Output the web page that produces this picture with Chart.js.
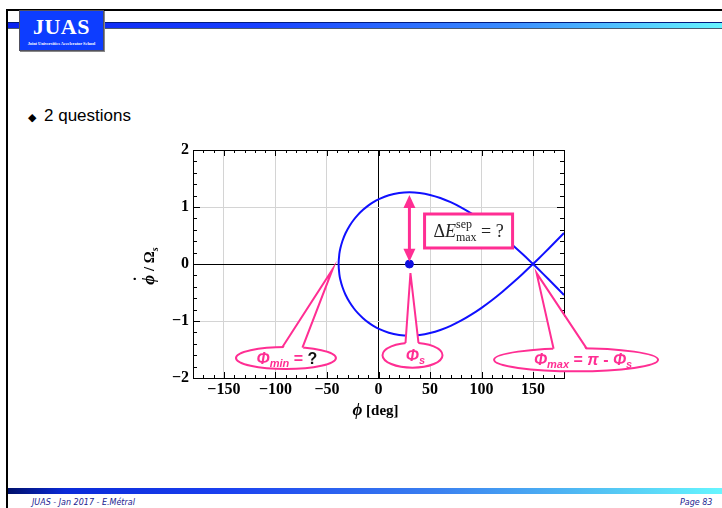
<!DOCTYPE html>
<html><head><meta charset="utf-8">
<script src="https://cdn.jsdelivr.net/npm/chart.js@4"></script>
<style>
html,body{margin:0;padding:0;background:#fff;}
body{width:722px;height:508px;position:relative;overflow:hidden;font-family:'Liberation Sans',Arial,sans-serif;}
#frameTop{position:absolute;left:6px;top:9px;width:716px;height:2px;background:#000;}
#frameLeft{position:absolute;left:6px;top:9px;width:2px;height:499px;background:#000;}
#hbar{position:absolute;left:8px;top:22px;width:714px;height:5px;background:linear-gradient(to right,#0a22f0 0%,#1840ff 35%,#3a8cff 70%,#66f4ff 100%);border-top:1px solid #001a80;border-bottom:1px solid #4a5a70;}
#logo{position:absolute;left:19px;top:10px;width:83px;height:39px;background:#0d3dff;border:1px solid #505060;box-shadow:1px 1px 0 #888;}
#logo .t{position:absolute;left:0;top:3px;width:100%;text-align:center;color:#fff;font:bold 22px 'Liberation Serif',serif;letter-spacing:0.5px;}
#logo .s{position:absolute;left:0;top:30px;width:100%;text-align:center;color:#fff;font:bold 4.3px 'Liberation Serif',serif;white-space:nowrap;}
#bullet{position:absolute;left:28px;top:111px;font-size:11px;color:#000;}
#btext{position:absolute;left:44px;top:106px;font:17px 'Liberation Sans',Arial,sans-serif;color:#000;}
#fbar{position:absolute;left:8px;top:488px;width:714px;height:6px;background:linear-gradient(to right,#00106a 0%,#0a2ad8 8%,#1a40f0 30%,#3a80f0 60%,#55c8f4 85%,#66f6ff 100%);}
#ftext{position:absolute;left:32px;top:498px;font:italic 8px 'DejaVu Sans',sans-serif;color:#1a1a90;}
#fpage{position:absolute;left:680px;top:498px;font:italic 8px 'DejaVu Sans',sans-serif;color:#1a1a90;}
#c{position:absolute;left:0;top:0;}
</style></head>
<body>
<div id="frameTop"></div><div id="frameLeft"></div>
<div id="hbar"></div>
<div id="logo"><div class="t">JUAS</div><div class="s">Joint Universities Accelerator School</div></div>
<div id="bullet">◆</div>
<div id="btext">2 questions</div>
<div id="fbar"></div>
<div id="ftext">JUAS - Jan 2017 - E.Métral</div>
<div id="fpage">Page 83</div>
<canvas id="c" width="722" height="508"></canvas>
<script>
// ---- data ----
const phiLoopUpper = [150,140,130,120,110,100,90,80,70,60,50,40,30,20,10,0,-5,-10,-15,-20,-24,-28,-32,-35,-37,-38,-38.7];
const dotLoopUpper = [0,0.171,0.335,0.491,0.636,0.769,0.889,0.995,1.085,1.158,1.212,1.246,1.258,1.245,1.205,1.134,1.085,1.025,0.951,0.863,0.776,0.672,0.539,0.404,0.275,0.176,0];
const phiLoopLower = [-38,-37,-35,-32,-28,-24,-20,-15,-10,-5,0,10,20,30,40,50,60,70,80,90,100,110,120,130,140,150];
const dotLoopLower = [-0.176,-0.275,-0.404,-0.539,-0.672,-0.776,-0.863,-0.951,-1.025,-1.085,-1.134,-1.205,-1.245,-1.258,-1.246,-1.212,-1.158,-1.085,-0.995,-0.889,-0.769,-0.636,-0.491,-0.335,-0.171,0];
const phiTail = [150,160,170,180];
const dotTailUp = [0,0.177,0.359,0.543];
const dotTailDown = [0,-0.177,-0.359,-0.543];
const phiS = [30];
const dotS = [0];
const xTicks = [-150,-100,-50,0,50,100,150];
const yTicks = [-2,-1,0,1,2];

const PINK = '#ff2e93';
const BLUE = '#1010ff';

const loopPts = phiLoopUpper.map((p,i)=>({x:p,y:dotLoopUpper[i]}))
  .concat(phiLoopLower.map((p,i)=>({x:p,y:dotLoopLower[i]})));
const tailUp = phiTail.map((p,i)=>({x:p,y:dotTailUp[i]}));
const tailDown = phiTail.map((p,i)=>({x:p,y:dotTailDown[i]}));
const sPt = phiS.map((p,i)=>({x:p,y:dotS[i]}));

function fmt(v){ return v<0 ? '\u2212'+Math.abs(v) : String(v); }

function drawRuns(ctx, runs, cx, baseY){
  let w=0;
  runs.forEach(r=>{ctx.font=r.font; r.w=ctx.measureText(r.t).width; w+=r.w;});
  let x=cx-w/2;
  runs.forEach(r=>{
    ctx.font=r.font; ctx.fillStyle=r.color; ctx.textBaseline='alphabetic'; ctx.textAlign='left';
    ctx.fillText(r.t, x, baseY+(r.dy||0));
    r.x=x;
    x+=r.w;
  });
  return runs;
}

function callout(ctx, cx, cy, rx, ry, tip, bx1, bx2){
  const top = (x)=> cy - ry*Math.sqrt(Math.max(0,1-Math.pow((x-cx)/rx,2)));
  ctx.save();
  ctx.lineWidth=2; ctx.strokeStyle=PINK; ctx.fillStyle='#fff';
  ctx.beginPath(); ctx.ellipse(cx,cy,rx,ry,0,0,Math.PI*2); ctx.fill(); ctx.stroke();
  const y1=top(bx1), y2=top(bx2);
  ctx.beginPath(); ctx.moveTo(bx1,y1+2.5); ctx.lineTo(tip[0],tip[1]); ctx.lineTo(bx2,y2+2.5); ctx.closePath(); ctx.fill();
  ctx.beginPath(); ctx.moveTo(bx1,y1); ctx.lineTo(tip[0],tip[1]); ctx.lineTo(bx2,y2); ctx.stroke();
  ctx.restore();
}

const overlay = {
  id:'overlay',
  afterDatasetsDraw(chart){
    const ctx=chart.ctx, a=chart.chartArea, xs=chart.scales.x, ys=chart.scales.y;
    const X=v=>xs.getPixelForValue(v), Y=v=>ys.getPixelForValue(v);
    ctx.save();
    // frame
    ctx.strokeStyle='#000'; ctx.lineWidth=1;
    ctx.strokeRect(Math.round(a.left)+0.5, Math.round(a.top)+0.5, Math.round(a.right-a.left), Math.round(a.bottom-a.top));
    // ticks on frame
    ctx.beginPath();
    for(let v=-180; v<=180; v+=10){
      const px=Math.round(X(v))+0.5, L=(v%50===0)?6:3;
      ctx.moveTo(px,a.bottom); ctx.lineTo(px,a.bottom-L);
      ctx.moveTo(px,a.top); ctx.lineTo(px,a.top+L);
    }
    for(let k=-10; k<=10; k++){
      const v=k/5, py=Math.round(Y(v))+0.5, L=(k%5===0)?7:4;
      ctx.moveTo(a.left,py); ctx.lineTo(a.left+L,py);
      ctx.moveTo(a.right,py); ctx.lineTo(a.right-L,py);
    }
    ctx.stroke();

    // axis titles
    const SF="'Liberation Serif',serif";
    drawRuns(ctx,[
      {t:'\u03D5',font:'italic bold 17px '+SF,color:'#000'},
      {t:' [deg]',font:'bold 15px '+SF,color:'#000'}
    ], (a.left+a.right)/2-3, a.bottom+37);
    ctx.save();
    ctx.translate(a.left-39, (a.top+a.bottom)/2+2);
    ctx.rotate(-Math.PI/2);
    const r = drawRuns(ctx,[
      {t:'\u03D5',font:'italic bold 17px '+SF,color:'#000'},
      {t:' / \u03A9',font:'bold 15px '+SF,color:'#000'},
      {t:'s',font:'italic bold 10px '+SF,color:'#000',dy:4}
    ], 0, 0);
    ctx.font='bold 16px '+SF; ctx.fillStyle='#000'; ctx.textAlign='center';
    ctx.fillText('\u02D9', r[0].x + r[0].w/2 + 1, -9);
    ctx.restore();

    // double arrow at phi_s
    const ax=X(30), ay1=Y(0.04), ay2=Y(1.21);
    ctx.strokeStyle=PINK; ctx.fillStyle=PINK; ctx.lineWidth=3;
    ctx.beginPath(); ctx.moveTo(ax,ay1-10); ctx.lineTo(ax,ay2+10); ctx.stroke();
    ctx.beginPath(); ctx.moveTo(ax,ay2); ctx.lineTo(ax-6,ay2+13); ctx.lineTo(ax+6,ay2+13); ctx.closePath(); ctx.fill();
    ctx.beginPath(); ctx.moveTo(ax,ay1); ctx.lineTo(ax-6,ay1-13); ctx.lineTo(ax+6,ay1-13); ctx.closePath(); ctx.fill();

    // Delta E box
    const bx1=X(44.7), bx2=X(130.1), by1=Y(0.877), by2=Y(0.281);
    ctx.fillStyle='#fff'; ctx.fillRect(bx1,by1,bx2-bx1,by2-by1);
    ctx.lineWidth=3; ctx.strokeStyle=PINK; ctx.strokeRect(bx1,by1,bx2-bx1,by2-by1);
    const tc='#222';
    ctx.font="18px 'Liberation Serif'"; const wD=ctx.measureText('\u0394').width;
    ctx.font="italic 18px 'Liberation Serif'"; const wE=ctx.measureText('E').width;
    ctx.font="12px 'Liberation Serif'"; const wS=Math.max(ctx.measureText('sep').width, ctx.measureText('max').width);
    ctx.font="18px 'Liberation Serif'"; const wQ=ctx.measureText(' = ?').width;
    const tot=wD+wE+wS+wQ; let tx=(bx1+bx2)/2-tot/2; const tb=(by1+by2)/2+6;
    ctx.fillStyle=tc; ctx.textAlign='left'; ctx.textBaseline='alphabetic';
    ctx.font="18px 'Liberation Serif'"; ctx.fillText('\u0394',tx,tb); tx+=wD;
    ctx.font="italic 18px 'Liberation Serif'"; ctx.fillText('E',tx,tb); tx+=wE;
    ctx.font="12px 'Liberation Serif'"; ctx.fillText('sep',tx,tb-9); ctx.fillText('max',tx,tb+4); tx+=wS;
    ctx.font="18px 'Liberation Serif'"; ctx.fillText(' = ?',tx,tb);

    // callouts
    const F="'Liberation Sans',Arial,sans-serif";
    callout(ctx, X(-89.8), Y(-1.65), 50, 11, [X(-44.5),Y(-0.09)], X(-93.2), X(-73.8));
    drawRuns(ctx,[
      {t:'\u03A6',font:'italic bold 16px '+F,color:PINK},
      {t:'min',font:'italic bold 11px '+F,color:PINK,dy:3},
      {t:' = ',font:'bold 16px '+F,color:PINK},
      {t:'?',font:'bold 16px '+F,color:'#111'}
    ], X(-89.8)+1, Y(-1.65)+5.5);

    callout(ctx, X(33), Y(-1.6), 30, 12.5, [X(31),Y(-0.16)], X(26.2), X(38.8));
    drawRuns(ctx,[
      {t:'\u03A6',font:'italic bold 16px '+F,color:PINK},
      {t:'s',font:'italic bold 11px '+F,color:PINK,dy:3}
    ], X(33)+3, Y(-1.6)+5.5);

    callout(ctx, X(191.7), Y(-1.68), 82, 11.5, [X(153.4),Y(-0.16)], X(169.9), X(201.9));
    drawRuns(ctx,[
      {t:'\u03A6',font:'italic bold 16px '+F,color:PINK},
      {t:'max',font:'italic bold 11px '+F,color:PINK,dy:3},
      {t:' = ',font:'bold 16px '+F,color:PINK},
      {t:'\u03C0',font:'italic bold 16px '+F,color:PINK},
      {t:' - ',font:'bold 16px '+F,color:PINK},
      {t:'\u03A6',font:'italic bold 16px '+F,color:PINK},
      {t:'s',font:'italic bold 11px '+F,color:PINK,dy:3}
    ], X(191.7)+7, Y(-1.68)+5.5);
    ctx.restore();
  }
};

new Chart(document.getElementById('c'), {
  type:'scatter',
  data:{datasets:[
    {label:'separatrix', data:loopPts, showLine:true, borderColor:BLUE, borderWidth:2, pointRadius:0, tension:0.4, fill:false},
    {label:'tail up', data:tailUp, showLine:true, borderColor:BLUE, borderWidth:2, pointRadius:0, tension:0.3},
    {label:'tail down', data:tailDown, showLine:true, borderColor:BLUE, borderWidth:2, pointRadius:0, tension:0.3},
    {label:'phi_s', data:sPt, showLine:false, pointRadius:4, pointBackgroundColor:'#1010e0', pointBorderColor:'#1010e0'}
  ]},
  options:{
    responsive:false, animation:false, devicePixelRatio:1,
    layout:{padding:{left:138, top:150, right:158, bottom:86}},
    plugins:{legend:{display:false}, tooltip:{enabled:false}},
    scales:{
      x:{type:'linear', min:-180, max:180,
        afterBuildTicks:s=>{s.ticks=xTicks.map(v=>({value:v}));},
        afterFit:s=>{s.height=44;},
        ticks:{callback:fmt, color:'#000', font:{family:"'Liberation Serif'", size:16, weight:'bold'}, padding:2, maxRotation:0, autoSkip:false},
        grid:{drawTicks:false, color:c=>c.tick && c.tick.value===0 ? '#000' : '#d4d4d4', lineWidth:1},
        border:{display:false},
        title:{display:false}
      },
      y:{type:'linear', min:-2, max:2,
        afterBuildTicks:s=>{s.ticks=yTicks.map(v=>({value:v}));},
        afterFit:s=>{s.width=55;},
        ticks:{callback:fmt, color:'#000', font:{family:"'Liberation Serif'", size:16, weight:'bold'}, padding:4, autoSkip:false},
        grid:{drawTicks:false, color:c=>c.tick && c.tick.value===0 ? '#000' : '#d4d4d4', lineWidth:1},
        border:{display:false},
        title:{display:false}
      }
    }
  },
  plugins:[overlay]
});
</script>
</body></html>
